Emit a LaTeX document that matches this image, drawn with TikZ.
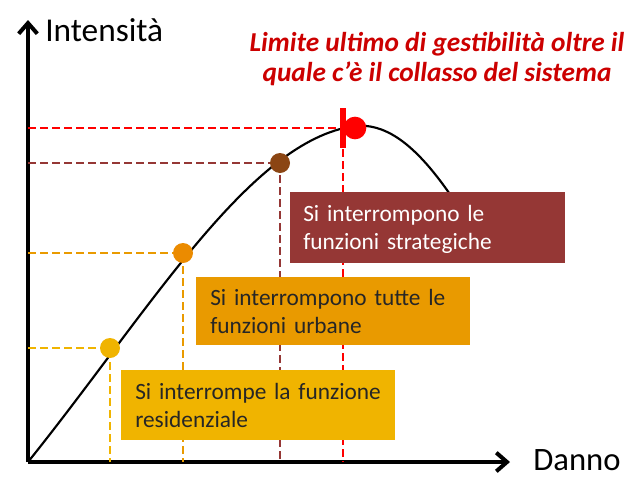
\documentclass[tikz,border=0pt]{standalone}
\usepackage{fontspec}
\setmainfont{Carlito}
\usepackage{xcolor}
\definecolor{darkred}{HTML}{953735}
\definecolor{orangebox}{HTML}{E99A00}
\definecolor{yellowbox}{HTML}{F0B400}
\definecolor{brownpt}{HTML}{8B4513}
\usetikzlibrary{arrows.meta}
\begin{document}
\begin{tikzpicture}[x=0.75pt,y=-0.75pt,
    infobox/.style={anchor=west,inner sep=0pt,text width=#1,align=left,font=\fontsize{17.5}{21}\selectfont},
    guide/.style={dashed,thick,dash pattern=on 6pt off 3pt},
    level/.style={circle,inner sep=0pt,minimum size=15pt}]
    \useasboundingbox (0,0) rectangle (635,479);
    % Axes
    \coordinate (O) at (28,462);
    \draw[line width=3pt,-{Straight Barb[length=8pt,width=14pt]}] (O) -- (28,20);
    \draw[line width=3pt,-{Straight Barb[length=8pt,width=14pt]}] (O) -- (510,462);
    \node[anchor=west,inner sep=0pt,font=\fontsize{25}{30}\selectfont] (ylab) at (45,30) {Intensità};
    \node[anchor=west,inner sep=0pt,font=\fontsize{24.5}{30}\selectfont] (xlab) at (533,460) {Danno};

    % Guides
    \draw[guide,yellowbox] (28,348) -- (110,348) -- (110,462);
    \draw[guide,orangebox] (28,253) -- (183,253) -- (183,462);
    \draw[guide,darkred] (28,163) -- (280,163) -- (280,462);
    \draw[guide,red] (28,128) -- (343,128) -- (343,462);

    % Curve
    \draw[line width=1.6pt] (O) .. controls (150,310) and (250,140) .. (355,126)
        .. controls (395,122) and (430,160) .. (470,225);

    % Boxes
    \fill[darkred] (290,192) rectangle (565,263);
    \node[infobox=260pt,text=white] (b1) at (303,229) {Si interrompono le\\ funzioni strategiche};
    \fill[orangebox] (196,277) rectangle (470,345);
    \node[infobox=260pt,text=black!85] (b2) at (210,311) {Si interrompono tutte le\\ funzioni urbane};
    \fill[yellowbox] (121,370) rectangle (395,440);
    \node[infobox=260pt,text=black!85] (b3) at (135,405) {Si interrompe la funzione\\ residenziale};

    % Level points
    \node[level,fill=yellowbox] (p1) at (110,348) {};
    \node[level,fill=orangebox!90!red] (p2) at (183,253) {};
    \node[level,fill=brownpt] (p3) at (280,163) {};
    \node[level,fill=red,minimum size=17pt] (p4) at (355,128) {};
    \draw[red,line width=4pt] (343,108) -- (343,148);

    % Title
    \node[text=red!80!black,font=\fontsize{20.5}{23}\bfseries\itshape\selectfont,align=center] (lim) at (437,59)
        {Limite ultimo di gestibilità oltre il\\ quale c’è il collasso del sistema};
\end{tikzpicture}
\end{document}
